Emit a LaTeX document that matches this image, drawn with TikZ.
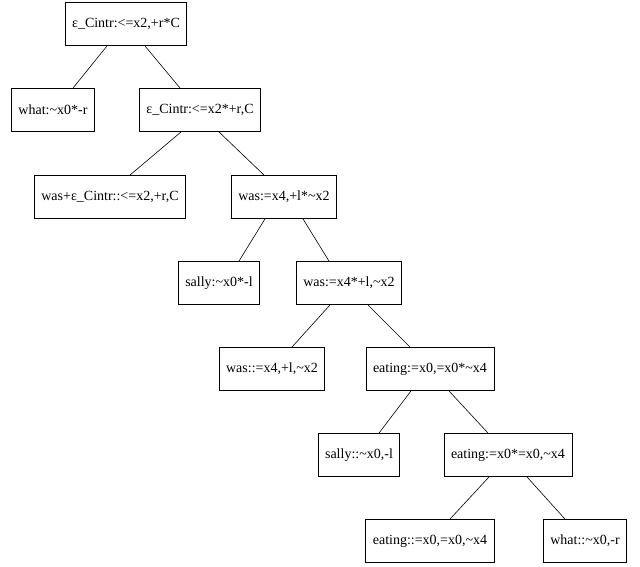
\documentclass[tikz,border=0pt]{standalone}
\usepackage{fontspec}
\setmainfont{Liberation Serif}
\newfontfamily\gk{DejaVu Serif}
\begin{document}
\begin{tikzpicture}[x=1pt,y=-1pt,
  bx/.style={draw,line width=0.9pt,minimum height=43pt,inner xsep=7pt,font=\fontsize{14}{16}\selectfont},
  ed/.style={line width=0.6pt}]
\useasboundingbox (0,0) rectangle (640,566);
\node[bx] (a) at (126,24) {ε\_Cintr:<=x2,+r*C};
\node[bx] (b) at (53,110) {what:\textasciitilde x0*-r};
\node[bx] (c) at (200,110) {ε\_Cintr:<=x2*+r,C};
\node[bx] (d) at (110,197) {was+ε\_Cintr::<=x2,+r,C};
\node[bx] (e) at (284,197) {was:=x4,+l*\textasciitilde x2};
\node[bx] (f) at (219,283) {sally:\textasciitilde x0*-l};
\node[bx] (g) at (349,283) {was:=x4*+l,\textasciitilde x2};
\node[bx] (h) at (272,369) {was::=x4,+l,\textasciitilde x2};
\node[bx] (i) at (430,369) {eating:=x0,=x0*\textasciitilde x4};
\node[bx] (j) at (359,455) {sally::\textasciitilde x0,-l};
\node[bx] (k) at (508,455) {eating:=x0*=x0,\textasciitilde x4};
\node[bx] (l) at (430,541) {eating::=x0,=x0,\textasciitilde x4};
\node[bx] (m) at (585,541) {what::\textasciitilde x0,-r};
\foreach \p/\l/\r in {a/b/c,c/d/e,e/f/g,g/h/i,i/j/k,k/l/m}{
  \draw[ed] ([xshift=-19pt]\p.south) -- ([xshift=20pt]\l.north);
  \draw[ed] ([xshift=19pt]\p.south) -- ([xshift=-20pt]\r.north);
}
\end{tikzpicture}
\end{document}
